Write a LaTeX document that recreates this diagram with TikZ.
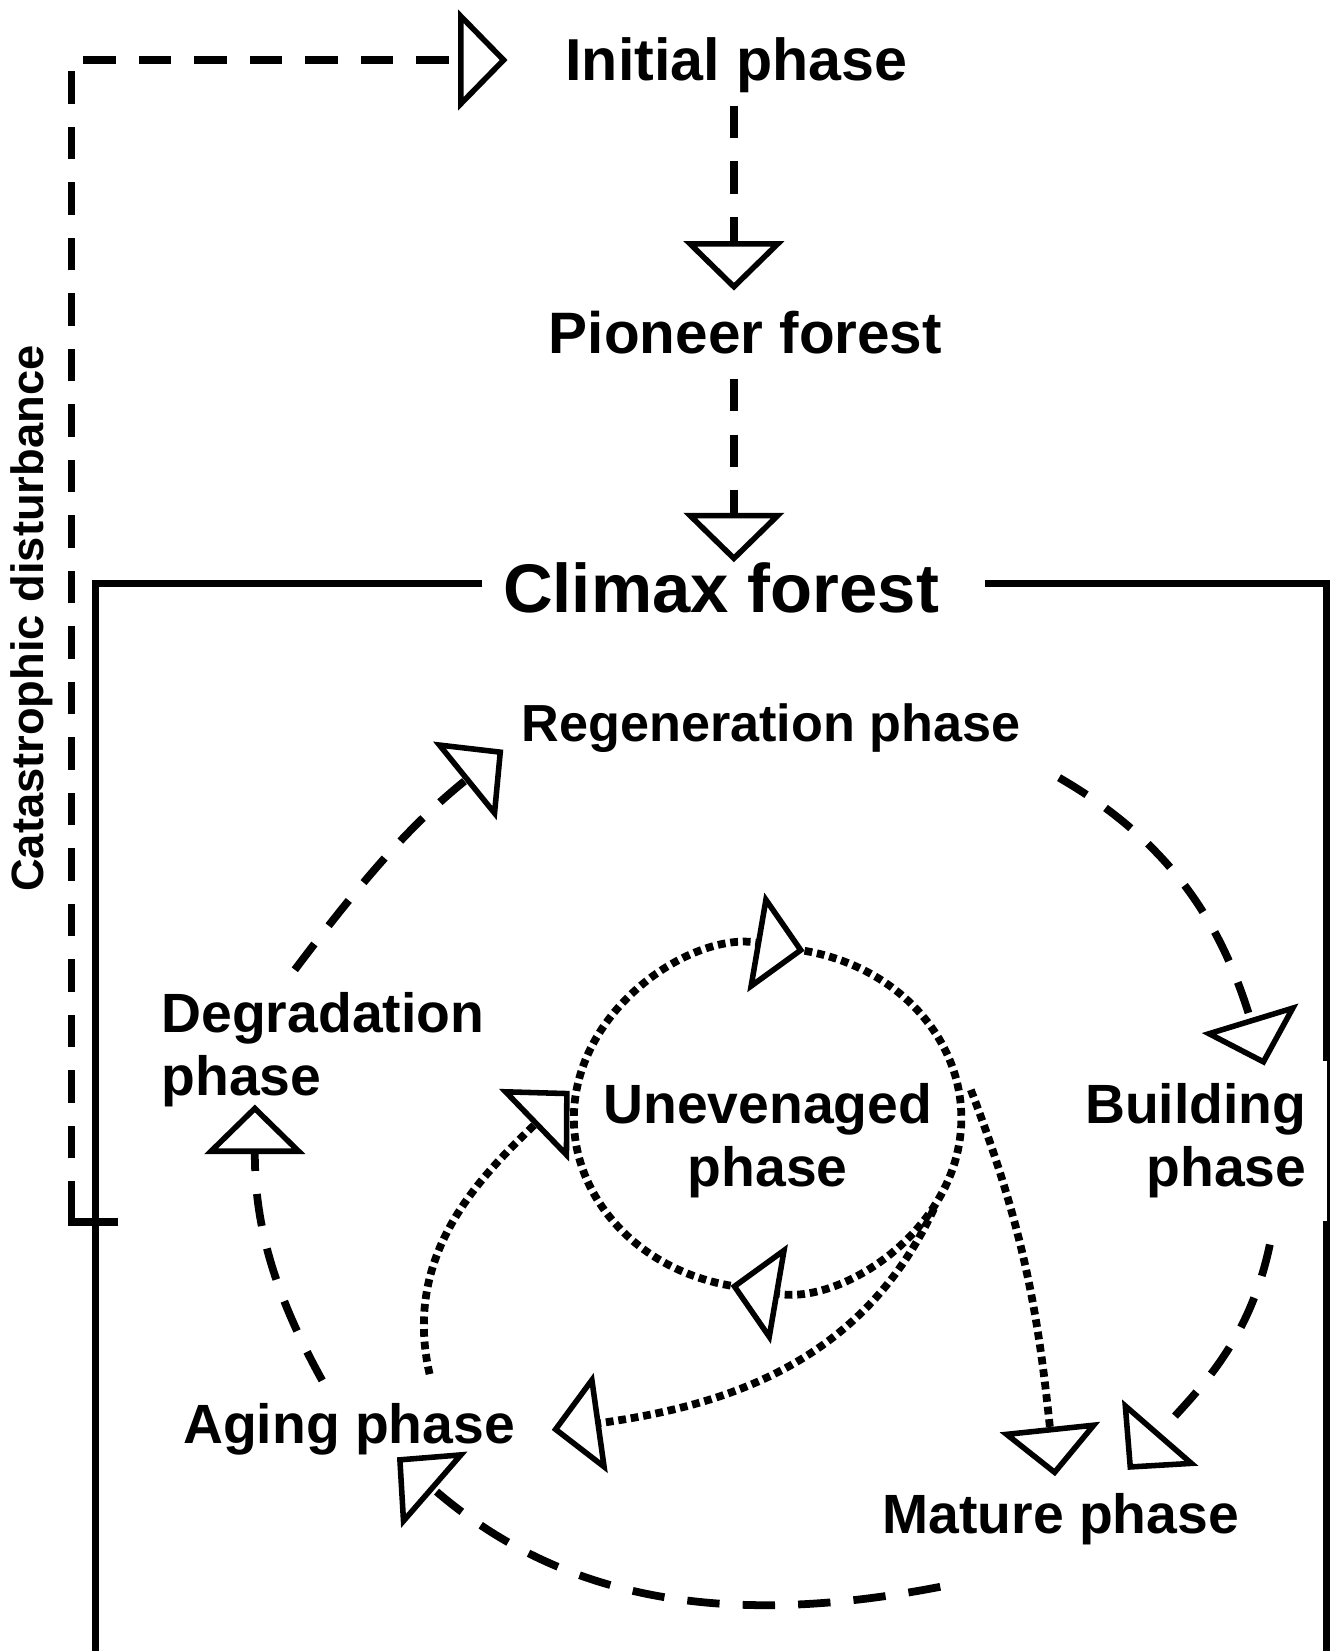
\documentclass[tikz,border=0pt]{standalone}
\usepackage{fontspec}
\setmainfont{Liberation Sans}
\usetikzlibrary{arrows.meta}
\tikzset{>={Triangle[open, length=0.94cm, width=1.9cm, line width=3pt]}, % Big hollow heads
    succ/.style={ % Dashed links of the main cycle
    ->,
    line width=4.2pt,
    dash pattern=on 17.5pt off 12.5pt},
    gap/.style={ % Dotted links through the unevenaged phase
    ->,
    line width=4.2pt,
    dash pattern=on 4.2pt off 2.6pt},
    frame/.style={line width=3.9pt},
    stage/.style={font=\bfseries\fontsize{32}{36}\selectfont, anchor=base, inner sep=0pt},
    phase/.style={font=\bfseries\fontsize{29.9}{33.9}\selectfont, anchor=base, inner sep=0pt}}

\begin{document}
\begin{tikzpicture}[x=0.02cm, y=0.02cm]
    \useasboundingbox (0,0) rectangle (1264,-1568);

    % Climax forest frame
    \draw[frame] (458,-554) -- (91,-554) -- (91,-1568);
    \draw[frame] (935,-554) -- (1260,-554) -- (1260,-1568);

    % Labels
    \node[stage] (initial) at (699.5,-76.6) {Initial phase};
    \node[stage, font=\bfseries\fontsize{31.6}{36}\selectfont] (pioneer) at (708,-335.5) {Pioneer forest};
    \node[stage, font=\bfseries\fontsize{37.2}{42}\selectfont] (climax) at (684.8,-582) {Climax forest};
    \node[phase, font=\bfseries\fontsize{28.2}{33}\selectfont] (regen) at (732.3,-704.5) {Regeneration phase};
    \node[phase, anchor=base west, align=left] (degrad) at (153,-1040.5) {Degradation\\phase};
    \node[phase, align=center] (uneven) at (729.2,-1127) {Unevenaged\\phase};
    \node[phase, anchor=base east, align=right, fill=white, inner xsep=0.4cm, inner ysep=0.44cm] (building) at (1261,-1127) {Building\\phase};
    \node[phase] (aging) at (331.5,-1370.7) {Aging phase};
    \node[phase] (mature) at (1007.5,-1456.8) {Mature phase};
    \node[rotate=90, anchor=base, inner sep=0pt, font=\bfseries\fontsize{24.5}{28}\selectfont] (disturb) at (41,-587.5) {Catastrophic disturbance};

    % Catastrophic disturbance
    \coordinate (dstart) at (112,-1160.5);
    \coordinate (dlow) at (68,-1160.5);
    \coordinate (dturn) at (68,-1122);
    \coordinate (dhigh) at (68,-57);
    \coordinate (dtip) at (482,-57);
    \draw[frame, line width=4.2pt] (dstart) -- (dlow) -- (dturn);
    \draw[succ, dash phase=-12.5pt] (dturn) -- (dhigh) -- (dtip);

    % Succession
    \coordinate (initialout) at (697,-100.6);
    \coordinate (pioneerin) at (697,-276);
    \coordinate (pioneerout) at (697,-360);
    \coordinate (climaxin) at (697,-534);
    \draw[succ] (initialout) -- (pioneerin);
    \draw[succ] (pioneerout) -- (climaxin);

    % Main cycle
    \coordinate (regenout) at (1005.8,-738.6);
    \coordinate (buildingin) at (1201,-1012);
    \coordinate (buildingout) at (1206,-1182);
    \coordinate (maturein) at (1071,-1396);
    \coordinate (matureout) at (893,-1507);
    \coordinate (agingin) at (377,-1384);
    \coordinate (agingout) at (306,-1311);
    \coordinate (degradin) at (242,-1049);
    \coordinate (degradout) at (280,-921);
    \coordinate (regenin) at (478,-712);
    \draw[succ] (regenout) to[out=-30, in=107] (buildingin);
    \draw[succ] (buildingout) to[out=-102, in=49] (maturein);
    \draw[succ] (matureout) to[out=191, in=-41] (agingin);
    \draw[succ] (agingout) to[out=119, in=-90] (degradin);
    \draw[succ] (degradout) to[out=53, in=219] (regenin);

    % Unevenaged phase
    \coordinate (uevbot) at (693.9,-1221);
    \coordinate (uevtop) at (764.1,-903);
    \draw[gap] (uevbot) arc[start angle=259, end angle=79, x radius=184, y radius=162];
    \draw[gap] (uevtop) arc[start angle=79, end angle=-101, x radius=184, y radius=162];
    \coordinate (uevmat) at (922,-1035);
    \coordinate (matin2) at (1002,-1402);
    \coordinate (uevage) at (887,-1148);
    \coordinate (agein2) at (524,-1358);
    \coordinate (ageuev) at (408,-1305);
    \coordinate (uevin) at (541,-1036);
    \draw[gap] (uevmat) to[out=-69, in=96] (matin2);
    \draw[gap] (uevage) to[out=-115, in=8] (agein2);
    \draw[gap] (ageuev) to[out=103, in=224] (uevin);
\end{tikzpicture}
\end{document}
